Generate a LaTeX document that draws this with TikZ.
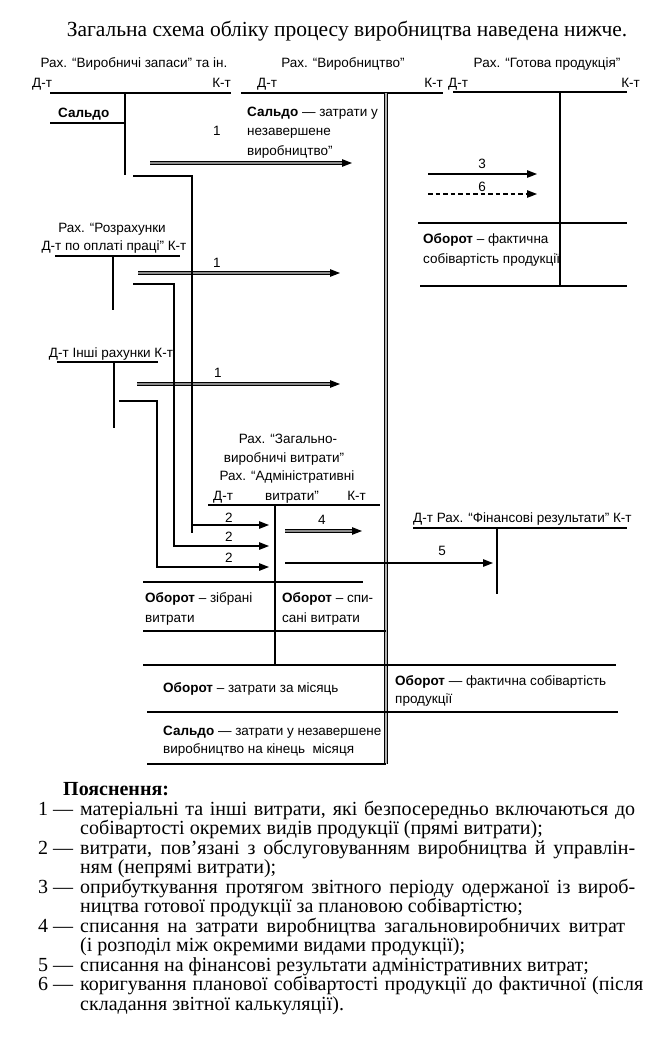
\documentclass[tikz,border=0pt]{standalone}
\usepackage{fontspec}
\setmainfont{Liberation Serif}
\setsansfont{Liberation Sans}
\usetikzlibrary{arrows.meta}
\begin{document}
\begin{tikzpicture}[x=1pt,y=-1pt,
  acc/.style={line width=1.4pt},
  con/.style={line width=1.3pt},
  dbl/.style={double=black!30, double distance=1.6pt, line width=0.9pt},
  arr/.style={line width=1.3pt, -{Triangle[length=10pt,width=7.5pt]}},
  darr/.style={double=black!45, double distance=1.3pt, line width=1.1pt, -{Triangle[length=10pt,width=7.5pt]}},
  dsh/.style={arr, dash pattern=on 4.5pt off 3pt},
  lbl/.style={font=\sffamily\fontsize{13.5}{16}\selectfont, inner sep=0pt, anchor=base west},
  lblc/.style={lbl, anchor=base},
  lble/.style={lbl, anchor=base east},
  leg/.style={font=\fontsize{20}{22}\selectfont, inner sep=0pt, anchor=base west},
]
\useasboundingbox (0,0) rectangle (668,1042);

% title
\node[font=\fontsize{21.5}{24}\selectfont, inner sep=0pt, anchor=base] (title) at (347,36) {Загальна схема обліку процесу виробництва наведена нижче.};

% account 1
\node[lblc] (h1) at (134,67) {Рах. “Виробничі запаси” та ін.};
\node[lbl] (d1) at (32,87) {Д-т};
\node[lble] (k1) at (231,87) {К-т};
\draw[acc] (50,93) -- (231,93);
\draw[acc] (125,93) -- (125,175);
\node[lbl] (s1) at (58,117) {\textbf{Сальдо}};
\draw[acc] (50,123) -- (125,123);

% account 2
\node[lblc] (h2) at (343,67) {Рах. “Виробництво”};
\node[lbl] (d2) at (257,87) {Д-т};
\node[lble] (k2) at (443,87) {К-т};
\draw[acc] (241,93) -- (443,93);
\draw[dbl] (386,93) -- (386,764);
\node[lbl] (s2a) at (247,116) {\textbf{Сальдо} — затрати у};
\node[lbl] (s2b) at (247,135.5) {незавершене};
\node[lbl] (s2c) at (247,155) {виробництво”};

% account 3
\node[lblc] (h3) at (547,67) {Рах. “Готова продукція”};
\node[lbl] (d3) at (448,87) {Д-т};
\node[lble] (k3) at (640,87) {К-т};
\draw[acc] (453,92) -- (627,92);
\draw[acc] (560,92) -- (560,286);
\coordinate (p3s) at (428,174); \coordinate (p3e) at (537,174);
\draw[arr] (p3s) -- (p3e);
\node[lblc] (n3) at (482,168) {3};
\coordinate (p6s) at (428,194); \coordinate (p6e) at (537,194);
\draw[dsh] (p6s) -- (p6e);
\node[lblc] (n6) at (482,191) {6};
\draw[acc] (418,223) -- (627,223);
\node[lbl] (o3a) at (423,243) {\textbf{Оборот} – фактична};
\node[lbl] (o3b) at (423,263) {собівартість продукції};
\draw[acc] (420,286) -- (627,286);

% arrow 1 (a)
\coordinate (p1as) at (150,163); \coordinate (p1ae) at (352,163);
\draw[darr] (p1as) -- (p1ae);
\node[lblc] (n1a) at (217,135) {1};

% account Rozrakhunky
\node[lblc] (r1) at (112,232) {Рах. “Розрахунки};
\node[lblc] (r2) at (114,250) {Д-т по оплаті праці” К-т};
\draw[acc] (55,256) -- (180,256);
\draw[acc] (113,256) -- (113,310);
\coordinate (p1bs) at (138,273); \coordinate (p1be) at (340,273);
\draw[darr] (p1bs) -- (p1be);
\node[lblc] (n1b) at (217,267) {1};

% account Inshi
\node[lblc] (i1) at (111,357) {Д-т Інші рахунки К-т};
\draw[acc] (57,362) -- (158,362);
\draw[acc] (114,362) -- (114,428);
\coordinate (p1cs) at (137,384); \coordinate (p1ce) at (340,384);
\draw[darr] (p1cs) -- (p1ce);
\node[lblc] (n1c) at (218,377) {1};

% connectors 2
\coordinate (c1s) at (133,176); \coordinate (c1e) at (269,525);
\coordinate (c2s) at (133,284); \coordinate (c2e) at (269,546);
\coordinate (c3s) at (119,401); \coordinate (c3e) at (269,567);
\draw[arr] (c1s) -| (192,525) -- (c1e);
\draw[con] (192,524) -- (192,533);
\draw[arr] (c2s) -| (174,546) -- (c2e);
\draw[arr] (c3s) -| (157,567) -- (c3e);
\node[lblc] (n2a) at (229,522) {2};
\node[lblc] (n2b) at (229,541) {2};
\node[lblc] (n2c) at (229,562) {2};

% account Zagalno / Admin
\node[lblc] (z1) at (288,443) {Рах. “Загально-};
\node[lblc] (z2) at (284,462) {виробничі витрати”};
\node[lblc] (z3) at (287,480) {Рах. “Адміністративні};
\node[lbl] (z4) at (213,500) {Д-т};
\node[lblc] (z5) at (292,500) {витрати”};
\node[lble] (z6) at (366,500) {К-т};
\draw[acc] (208,505) -- (380,505);
\draw[acc] (275,505) -- (275,665);
\coordinate (p4s) at (285,531); \coordinate (p4e) at (362,531);
\draw[darr] (p4s) -- (p4e);
\node[lblc] (n4) at (322,524) {4};
\coordinate (p5s) at (285,563); \coordinate (p5e) at (493,563);
\draw[arr] (p5s) -- (p5e);
\node[lblc] (n5) at (442,555) {5};
\draw[acc] (143,582) -- (363,582);
\node[lbl] (zo1) at (145,602) {\textbf{Оборот} – зібрані};
\node[lbl] (zo2) at (145,622) {витрати};
\node[lbl] (zo3) at (282,602) {\textbf{Оборот} – спи-};
\node[lbl] (zo4) at (282,622) {сані витрати};
\draw[acc] (143,631) -- (386,631);

% account Finansovi rezultaty
\node[lbl] (f1) at (413,522) {Д-т Рах. “Фінансові результати” К-т};
\draw[acc] (413,528) -- (627,528);
\draw[acc] (497,528) -- (497,594);

% bottom rows
\draw[acc] (143,665) -- (616,665);
\node[lbl] (ob1) at (163,692) {\textbf{Оборот} – затрати за місяць};
\node[lbl] (ob2) at (395,685) {\textbf{Оборот} — фактична собівартість};
\node[lbl] (ob3) at (395,703) {продукції};
\draw[acc] (147,712) -- (618,712);
\node[lbl] (sl1) at (163,735) {\textbf{Сальдо} — затрати у незавершене};
\node[lbl] (sl2) at (163,753) {виробництво на кінець\ \ місяця};
\draw[acc] (147,764) -- (386,764);

% legend
\node[leg, font=\bfseries\fontsize{20}{22}\selectfont] (leghead) at (63,795) {Пояснення:};
\node[leg] (m1) at (38,815) {1 —};
\node[leg] (t1a) at (80,815) {\makebox[555pt][s]{матеріальні та інші витрати, які безпосередньо включаються до}};
\node[leg] (t1b) at (80,834.5) {собівартості окремих видів продукції (прямі витрати);};
\node[leg] (m2) at (38,854) {2 —};
\node[leg] (t2a) at (80,854) {\makebox[555pt][s]{витрати, пов’язані з обслуговуванням виробництва й управлін-}};
\node[leg] (t2b) at (80,873.5) {ням (непрямі витрати);};
\node[leg] (m3) at (38,893) {3 —};
\node[leg] (t3a) at (80,893) {\makebox[555pt][s]{оприбуткування протягом звітного періоду одержаної із вироб-}};
\node[leg] (t3b) at (80,912.5) {ництва готової продукції за плановою собівартістю;};
\node[leg] (m4) at (38,932) {4 —};
\node[leg] (t4a) at (80,932) {\makebox[545pt][s]{списання на затрати виробництва загальновиробничих витрат}};
\node[leg] (t4b) at (80,951.5) {(і розподіл між окремими видами продукції);};
\node[leg] (m5) at (38,971) {5 —};
\node[leg] (t5a) at (80,971) {списання на фінансові результати адміністративних витрат;};
\node[leg] (m6) at (38,990.5) {6 —};
\node[leg] (t6a) at (80,990.5) {\makebox[563pt][s]{коригування планової собівартості продукції до фактичної (після}};
\node[leg] (t6b) at (80,1010) {складання звітної калькуляції).};
\end{tikzpicture}
\end{document}
